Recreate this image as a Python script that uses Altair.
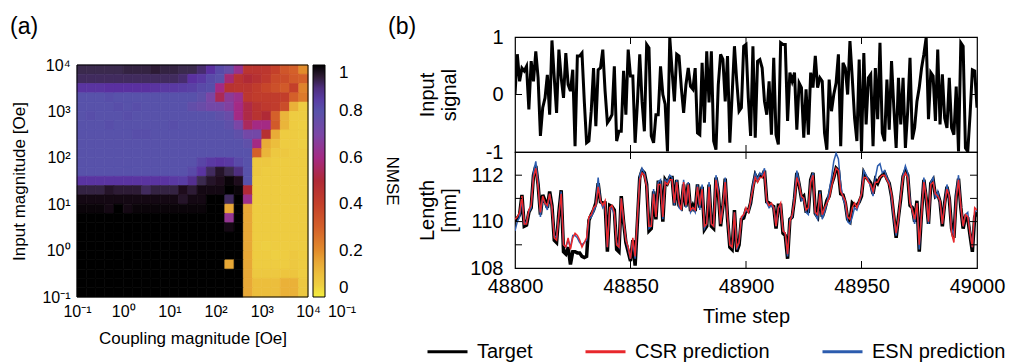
import altair as alt
import pandas as pd

FONT = "Liberation Sans"

# ---------------- panel (a) data ----------------
EXPONENT_RANGE = [-1, 4]
TICK_EXPONENTS = [-1, 0, 1, 2, 3, 4]
TICK_LABELS = ["10⁻¹", "10⁰", "10¹", "10²", "10³", "10⁴"]
# NMSE grid, top row (input 10^3.8..10^4) first, columns coupling 10^-1 .. 10^4
NMSE_ROWS = [
    [0.93,0.93,0.93,0.93,0.93,0.94,0.94,0.94,0.95,0.94,0.94,0.93,0.93,0.91,0.88,0.82,0.76,0.63,0.45,0.45,0.44,0.40,0.33,0.30,0.20],
    [0.92,0.92,0.92,0.92,0.92,0.92,0.92,0.92,0.92,0.92,0.92,0.91,0.88,0.86,0.82,0.79,0.58,0.46,0.50,0.47,0.43,0.37,0.36,0.32,0.30],
    [0.87,0.87,0.87,0.88,0.88,0.88,0.88,0.88,0.87,0.86,0.86,0.85,0.84,0.82,0.81,0.60,0.46,0.45,0.45,0.42,0.38,0.35,0.32,0.40,0.22],
    [0.80,0.80,0.80,0.81,0.80,0.80,0.80,0.80,0.80,0.80,0.80,0.80,0.80,0.78,0.70,0.54,0.66,0.62,0.44,0.42,0.42,0.42,0.41,0.30,0.24],
    [0.80,0.80,0.80,0.80,0.81,0.80,0.81,0.80,0.80,0.80,0.80,0.80,0.77,0.75,0.72,0.72,0.68,0.60,0.52,0.46,0.43,0.42,0.36,0.13,0.06],
    [0.80,0.81,0.80,0.80,0.80,0.81,0.80,0.80,0.80,0.80,0.80,0.80,0.80,0.80,0.80,0.78,0.75,0.60,0.52,0.46,0.50,0.30,0.12,0.06,0.06],
    [0.80,0.80,0.80,0.81,0.80,0.80,0.80,0.80,0.80,0.80,0.81,0.80,0.80,0.80,0.80,0.80,0.78,0.70,0.55,0.60,0.60,0.32,0.12,0.06,0.05],
    [0.80,0.80,0.80,0.80,0.80,0.80,0.81,0.81,0.80,0.80,0.80,0.80,0.80,0.80,0.80,0.80,0.80,0.78,0.72,0.72,0.47,0.14,0.06,0.06,0.05],
    [0.80,0.80,0.80,0.80,0.80,0.80,0.80,0.80,0.80,0.80,0.80,0.80,0.80,0.80,0.80,0.80,0.80,0.80,0.78,0.60,0.14,0.10,0.06,0.06,0.05],
    [0.80,0.80,0.80,0.80,0.80,0.80,0.80,0.80,0.80,0.80,0.80,0.80,0.80,0.80,0.80,0.80,0.80,0.80,0.80,0.30,0.12,0.07,0.07,0.06,0.06],
    [0.80,0.80,0.80,0.80,0.80,0.80,0.80,0.80,0.80,0.80,0.80,0.80,0.80,0.83,0.86,0.87,0.86,0.82,0.80,0.07,0.07,0.06,0.06,0.06,0.06],
    [0.80,0.80,0.80,0.80,0.80,0.80,0.80,0.80,0.80,0.80,0.80,0.80,0.82,0.87,0.92,0.96,0.93,0.90,0.80,0.07,0.06,0.06,0.06,0.06,0.06],
    [0.87,0.87,0.87,0.87,0.87,0.87,0.87,0.87,0.87,0.87,0.86,0.85,0.89,0.93,0.96,0.97,0.99,0.97,0.80,0.06,0.06,0.06,0.06,0.06,0.06],
    [0.94,0.94,0.94,0.96,0.95,0.95,0.95,0.92,0.94,0.94,0.94,0.97,0.95,0.98,0.98,0.98,1.00,0.99,0.50,0.06,0.06,0.06,0.06,0.06,0.06],
    [0.98,0.98,0.98,0.98,0.98,0.98,0.98,0.98,0.98,0.98,0.98,0.96,0.98,0.98,1.00,1.00,0.92,1.00,0.62,0.06,0.06,0.06,0.06,0.06,0.06],
    [0.99,0.99,0.99,0.98,1.00,0.98,0.99,0.99,0.99,0.99,0.99,0.99,0.99,0.99,1.00,1.00,0.15,1.00,0.15,0.06,0.06,0.06,0.06,0.06,0.06],
    [1.00,1.00,1.00,1.00,1.00,1.00,1.00,1.00,1.00,1.00,1.00,1.00,1.00,1.00,1.00,1.00,0.64,1.00,0.15,0.06,0.06,0.06,0.06,0.06,0.06],
    [1.00,1.00,1.00,1.00,1.00,1.00,1.00,1.00,1.00,1.00,1.00,1.00,1.00,1.00,1.00,1.00,0.98,1.00,0.15,0.06,0.06,0.06,0.06,0.06,0.06],
    [1.00,1.00,1.00,1.00,1.00,1.00,1.00,1.00,1.00,1.00,1.00,1.00,1.00,1.00,1.00,1.00,1.00,1.00,0.15,0.06,0.06,0.06,0.06,0.06,0.06],
    [1.00,1.00,1.00,1.00,1.00,1.00,1.00,1.00,1.00,1.00,1.00,1.00,1.00,1.00,1.00,1.00,1.00,1.00,0.15,0.06,0.05,0.06,0.06,0.06,0.06],
    [1.00,1.00,1.00,1.00,1.00,1.00,1.00,1.00,1.00,1.00,1.00,1.00,1.00,1.00,1.00,1.00,1.00,1.00,0.15,0.06,0.06,0.05,0.06,0.07,0.06],
    [1.00,1.00,1.00,1.00,1.00,1.00,1.00,1.00,1.00,1.00,1.00,1.00,1.00,1.00,1.00,1.00,0.15,1.00,0.15,0.06,0.06,0.06,0.06,0.07,0.06],
    [1.00,1.00,1.00,1.00,1.00,1.00,1.00,1.00,1.00,1.00,1.00,1.00,1.00,1.00,1.00,1.00,1.00,1.00,0.15,0.07,0.07,0.07,0.08,0.08,0.06],
    [1.00,1.00,1.00,1.00,1.00,1.00,1.00,1.00,1.00,1.00,1.00,1.00,1.00,1.00,1.00,1.00,1.00,1.00,0.15,0.10,0.10,0.10,0.13,0.13,0.07],
    [1.00,1.00,1.00,1.00,1.00,1.00,1.00,1.00,1.00,1.00,1.00,1.00,1.00,1.00,1.00,1.00,1.00,1.00,0.15,0.10,0.10,0.10,0.13,0.13,0.07],
]
NMSE_TICKS = [0, 0.2, 0.4, 0.6, 0.8, 1]
PALETTE_STOPS = [0, 0.05, 0.1, 0.15, 0.2, 0.3, 0.4, 0.5, 0.6, 0.7, 0.8, 0.88, 0.93, 0.97, 1.0]
PALETTE_COLORS = ["#f4ee3e", "#eecf42", "#ecbe3c", "#e8a836", "#e28c2c", "#d4602a",
                  "#c4402a", "#b02a36", "#a42a84", "#7a46a6", "#5852aa", "#5a30a0",
                  "#3b2a4e", "#1e0c1c", "#000000"]

# ---------------- panel (b) data ----------------
TIME_TICKS = [48800, 48850, 48900, 48950, 49000]
INPUT_TICKS = [-1, 0, 1]
LENGTH_TICKS = [108, 110, 112]
LENGTH_RANGE = [108, 113]
LENGTH_MARKS = [109, 110, 111, 112]
SERIES = ["Target", "CSR prediction", "ESN prediction"]
SERIES_COLORS = ["#000000", "#e8282c", "#2c5cae"]
SERIES_WIDTHS = [3.5, 1.5, 1.5]

INPUT_SIGNAL = [
    0.0, 0.70, 0.23, 0.46, 0.41, 0.49, -0.26, 0.58, 0.23, 0.75,
    0.29, -0.72, -0.23, -0.06, 0.34, -0.35, 0.94, 0.29, -0.32, 0.78,
    0.29, -0.06, 0.72, 0.17, 0.06, 0.43, -0.90, 0.67, 0.67, 0.72,
    -0.12, -0.84, -0.81, -0.29, 0.46, -0.55, 0.43, 0.46, 0.78, 0.06,
    -0.49, -0.43, -0.35, 0.49, -0.81, -0.64, -0.64, 0.41, -0.35, 0.78,
    0.32, 0.32, -0.84, -0.14, 0.70, -0.12, -0.64, 0.87, 0.81, -0.72,
    -0.84, -0.35, -0.35, 0.49, 0.0, -0.17, -0.99, 0.99, 0.41, -0.12,
    0.70, 0.67, 0.12, -0.32, 0.17, 0.46, 0.14, 0.09, 0.46, -0.67,
    -0.70, 0.55, -0.49, 0.75, -0.14, 0.75, -0.81, -0.96, 0.17, 0.70,
    0.61, -0.12, 0.67, -0.84, 0.0, 0.84, 0.23, -0.29, -0.23,
    0.84, 0.87, -0.06, -0.72, 0.84, -0.75, 0.58, 0.61, 0.46, -0.12,
    -0.35, 0.23, -0.70, 0.64, -0.70, -0.87, 0.90, 0.87, 0.87, -0.46,
    0.38, 0.23, 0.38, -0.61, 0.20, 0.12, -0.75, 0.09, -0.70, 0.38,
    0.12, 0.67, 0.12, 0.29, 0.23, -0.67, -0.96, 0.26, -0.29, 0.0,
    0.2, 0.70, -0.90, 0.55, 0.46, 0.0, 0.93, 0.29, -0.41, -0.81,
    0.61, -0.99, 0.72, -0.52, 0.29, 0.35, -0.90, 0.46, -0.43, 0.90,
    -0.67, -0.81, 0.26, -0.61, 0.58, -0.23, -0.93, 0.29, -0.52, 0.29,
    -0.93, -0.29, 0.64, -0.78, -0.58, -0.12, 0.12, 0.46, 0.70, 0.99,
    -0.43, 0.38, 0.32, -0.46, 0.78, -0.52, 0.35, -0.41, -0.58, 0.29,
    -0.58, -0.70, 0.14, -0.99, 0.90, 0.84, -0.93, -0.99, -0.35, 0.43,
    0.41, -0.23,
]

TARGET = [
    110.0, 110.15, 110.3, 111.15, 109.8, 109.85, 110.4, 110.6, 112.0, 112.4,
    111.6, 110.3, 111.15, 110.9, 110.6, 111.3, 110.7, 109.2, 109.1, 110.4,
    111.35, 108.7, 108.6, 108.9, 108.15, 108.7, 108.7, 108.65, 108.65, 108.5,
    108.45, 108.5, 110.05, 110.3, 110.5, 110.8, 111.65, 110.85, 110.8, 110.8,
    108.7, 110.7, 110.65, 110.5, 108.8, 108.7, 111.1, 110.0, 109.1, 108.7,
    108.3, 109.2, 108.1, 110.0, 111.9, 112.2, 112.1, 111.6, 109.6, 109.7,
    111.3, 110.1, 111.7, 111.7, 110.0, 111.8, 111.65, 111.9, 111.9, 110.7,
    111.8, 110.7, 110.6, 111.6, 110.65, 111.65, 110.45, 110.7, 110.45, 111.6,
    110.6, 111.5, 109.65, 109.8, 111.6, 109.8, 109.7, 111.9, 111.3, 109.8,
    110.65, 111.85, 110.15, 108.9, 108.8, 110.5, 108.7, 109.0, 110.1, 110.15,
    110.5, 110.45, 110.8, 111.5, 112.0, 111.8, 112.0, 111.95, 112.2, 110.85,
    110.8, 110.7, 110.65, 109.7, 110.7, 110.7, 109.5, 109.4, 108.4, 110.1,
    110.2, 111.0, 112.1, 111.6, 111.0, 111.1, 110.45, 110.45, 111.8, 112.1,
    110.35, 110.2, 111.35, 110.2, 110.5, 110.9, 111.1, 111.6, 111.9, 112.3,
    112.2, 111.2, 111.15, 110.8, 110.1, 110.0, 110.8, 110.7, 110.7, 110.85,
    111.1, 112.1, 111.9, 111.8, 111.65, 111.2, 111.8, 111.65, 111.9, 112.0,
    112.1, 111.85, 111.65, 111.1, 110.2, 109.3, 110.2, 111.0, 111.95, 112.2,
    112.0, 110.7, 110.6, 110.0, 110.9, 108.7, 110.4, 111.8, 111.0, 109.9,
    111.65, 111.8, 111.1, 111.2, 110.85, 109.8, 110.8, 111.5, 111.0, 109.7,
    109.3, 111.1, 111.85, 110.6, 109.7, 110.2, 110.15, 109.4, 108.7, 110.2,
    110.4,
]

CSR_PREDICTION = [
    110.1, 110.2, 110.4, 111.1, 109.9, 109.9, 110.5, 110.7, 111.9, 112.3,
    111.5, 110.4, 111.1, 110.8, 110.7, 111.2, 110.6, 109.3, 109.2, 110.3,
    111.2, 109.0, 108.9, 109.3, 108.8, 109.3, 109.5, 109.4, 109.2, 108.9,
    109.1, 109.3, 110.2, 110.3, 110.6, 110.7, 111.5, 110.9, 110.7, 110.9,
    108.9, 110.6, 110.7, 110.4, 109.0, 108.9, 111.0, 110.1, 109.2, 108.9,
    108.4, 109.3, 108.5, 110.2, 111.8, 112.1, 112.0, 111.5, 109.8, 109.8,
    111.2, 110.2, 111.6, 111.6, 110.2, 111.7, 111.6, 111.8, 111.8, 110.8,
    111.7, 110.8, 110.5, 111.7, 110.7, 111.6, 110.5, 110.6, 110.5, 111.5,
    110.7, 111.4, 109.8, 109.9, 111.5, 109.9, 109.8, 111.8, 111.2, 109.9,
    110.7, 111.7, 110.2, 109.0, 108.9, 110.4, 108.9, 109.1, 110.2, 110.3,
    110.6, 110.4, 110.9, 111.4, 111.9, 111.7, 111.9, 111.9, 112.1, 110.9,
    110.7, 110.8, 110.6, 109.8, 110.6, 110.8, 109.6, 109.5, 108.6, 110.0,
    110.3, 110.9, 111.9, 111.6, 111.1, 111.0, 110.5, 110.6, 111.7, 112.0,
    110.4, 110.3, 111.2, 110.3, 110.6, 110.8, 111.0, 111.5, 111.9, 112.3,
    112.2, 111.3, 111.1, 110.9, 110.2, 110.1, 110.6, 110.8, 110.6, 110.9,
    111.2, 111.9, 111.9, 111.7, 111.6, 111.3, 111.7, 111.7, 111.9, 112.0,
    112.0, 111.8, 111.6, 111.2, 110.3, 109.5, 110.1, 111.1, 111.9, 112.1,
    111.9, 110.8, 110.5, 110.1, 110.8, 109.0, 110.3, 111.7, 111.1, 110.0,
    111.6, 111.7, 111.2, 111.1, 110.9, 109.9, 110.7, 111.4, 111.1, 109.5,
    109.1, 111.0, 111.8, 110.7, 109.8, 110.3, 110.2, 109.5, 108.9, 110.6,
    110.5,
]

ESN_PREDICTION = [
    109.6, 110.0, 110.2, 111.0, 109.9, 110.0, 110.4, 110.6, 112.1, 112.6,
    111.7, 110.2, 111.0, 110.8, 110.5, 111.2, 110.6, 109.4, 109.3, 110.3,
    111.3, 109.0, 108.9, 109.2, 108.9, 109.4, 109.4, 109.3, 109.1, 109.0,
    109.1, 109.2, 110.1, 110.2, 110.4, 110.7, 111.9, 110.9, 110.6, 110.8,
    108.9, 110.5, 110.6, 110.3, 109.1, 108.9, 111.0, 110.0, 109.2, 108.8,
    108.4, 109.2, 108.4, 110.1, 112.0, 112.3, 112.1, 111.6, 109.7, 109.8,
    111.4, 110.2, 111.7, 111.8, 110.1, 111.8, 111.7, 112.0, 111.9, 110.7,
    111.8, 110.6, 110.5, 111.8, 110.6, 111.7, 110.4, 110.6, 110.4, 111.6,
    110.5, 111.6, 109.7, 109.9, 111.7, 109.9, 109.8, 112.0, 111.4, 109.9,
    110.6, 111.9, 110.2, 109.0, 108.9, 110.4, 108.8, 109.1, 110.1, 110.3,
    110.5, 110.4, 110.8, 111.6, 112.1, 111.8, 112.1, 112.0, 112.3, 110.8,
    110.6, 110.7, 110.6, 109.8, 110.6, 110.7, 109.6, 109.5, 108.5, 110.1,
    110.2, 111.1, 112.2, 111.7, 110.9, 111.0, 110.4, 110.3, 111.8, 112.1,
    110.3, 110.1, 111.3, 110.1, 110.4, 110.8, 111.3, 111.9, 112.6, 112.95,
    112.7, 111.6, 111.0, 110.7, 110.0, 109.9, 110.2, 110.6, 110.5, 110.8,
    111.2, 112.2, 112.0, 111.8, 111.5, 111.1, 111.9, 112.4, 112.5, 112.1,
    112.2, 111.9, 111.7, 111.0, 110.1, 109.4, 110.1, 111.1, 112.0, 112.4,
    112.1, 110.9, 110.5, 109.9, 110.8, 108.8, 110.4, 111.9, 111.0, 109.9,
    111.7, 111.9, 111.0, 111.3, 110.8, 109.9, 110.8, 111.6, 111.0, 109.7,
    109.4, 111.2, 112.0, 110.6, 109.8, 110.3, 110.4, 109.5, 108.9, 110.4,
    110.5,
]

# ---------------- layout constants ----------------
A_W, A_H, A_MAP = 231, 260, 232
B_W, B_TOP_H, B_BOT_H = 462, 115, 116
TICK_LEN = 7

# ---------------- panel (a) ----------------
n_cols = len(NMSE_ROWS[0])
n_rows = len(NMSE_ROWS)
dx = (EXPONENT_RANGE[1] - EXPONENT_RANGE[0]) / n_cols
dy = (EXPONENT_RANGE[1] - EXPONENT_RANGE[0]) / n_rows
cells = []
for r, row in enumerate(NMSE_ROWS):
    y_hi = EXPONENT_RANGE[1] - r * dy
    for c, v in enumerate(row):
        x_lo = EXPONENT_RANGE[0] + c * dx
        cells.append({"x0": x_lo, "x1": x_lo + dx, "y0": y_hi - dy, "y1": y_hi, "nmse": v})
heat_df = pd.DataFrame(cells)

sup_expr = "'" + TICK_LABELS[-1] + "'"
for e, lab in reversed(list(zip(TICK_EXPONENTS[:-1], TICK_LABELS[:-1]))):
    sup_expr = f"datum.value == {e} ? '{lab}' : " + sup_expr

xs_a = alt.Scale(domain=EXPONENT_RANGE, nice=False, zero=False)
ys_a = alt.Scale(domain=EXPONENT_RANGE, nice=False, zero=False, range=[A_H, A_H - A_MAP])
cscale = alt.Scale(domain=PALETTE_STOPS, range=PALETTE_COLORS, interpolate="rgb")

heat = alt.Chart(heat_df).mark_rect(strokeWidth=0.7).encode(
    x=alt.X("x0:Q", scale=xs_a, axis=alt.Axis(
        values=TICK_EXPONENTS, labelExpr=sup_expr, title="Coupling magnitude [Oe]",
        labelFlush=False, labelOverlap=False, labelPadding=6, titlePadding=11,
        labelFontSize=16, titleFontSize=17, tickSize=0, domain=False)),
    x2="x1:Q",
    y=alt.Y("y0:Q", scale=ys_a, axis=alt.Axis(
        values=TICK_EXPONENTS, labelExpr=sup_expr, title="Input magnitude [Oe]",
        labelFlush=False, labelOverlap=False, labelPadding=7, titlePadding=13,
        labelFontSize=16, titleFontSize=17, tickSize=0, domain=False)),
    y2="y1:Q",
    color=alt.Color("nmse:Q", scale=cscale, title="NMSE", legend=alt.Legend(
        type="gradient",
        orient="none", legendX=A_W + 5, legendY=A_H - A_MAP, direction="vertical",
        gradientLength=A_MAP, gradientThickness=12, values=NMSE_TICKS, format="~g",
        labelFontSize=17, labelOffset=14, labelOverlap=False,
        titleOrient="right", titleAnchor="middle", titleFontSize=17,
        titleFontWeight="normal", titlePadding=20,
        gradientStrokeColor="black", gradientStrokeWidth=1, padding=0)),
    stroke=alt.Stroke("nmse:Q", scale=cscale, legend=None),
)

frame_df = pd.DataFrame({"x0": [EXPONENT_RANGE[0]], "x1": [EXPONENT_RANGE[1]],
                         "y0": [EXPONENT_RANGE[0]], "y1": [EXPONENT_RANGE[1]]})
frame = alt.Chart(frame_df).mark_rect(filled=False, stroke="black", strokeWidth=1).encode(
    x=alt.X("x0:Q", scale=xs_a), x2="x1:Q", y=alt.Y("y0:Q", scale=ys_a), y2="y1:Q")

label_a = alt.Chart(pd.DataFrame({"t": ["(a)"]})).mark_text(
    fontSize=23, align="left", baseline="middle").encode(
    x=alt.value(-67), y=alt.value(-10), text="t:N")
extra_lab = alt.Chart(pd.DataFrame({"t": [TICK_LABELS[0]]})).mark_text(
    fontSize=16, align="center", baseline="top").encode(
    x=alt.value(A_W + 34), y=alt.value(A_H + 7), text="t:N")

panel_a = alt.layer(heat, frame, label_a, extra_lab).properties(
    width=A_W, height=A_H, view=alt.ViewBackground(strokeOpacity=0))

# ---------------- panel (b) ----------------
steps = [TIME_TICKS[0] + i for i in range(len(INPUT_SIGNAL))]
in_df = pd.DataFrame({"step": steps, "value": INPUT_SIGNAL})
xs_b = alt.Scale(domain=[TIME_TICKS[0], TIME_TICKS[-1]], nice=False, zero=False)
ys_top = alt.Scale(domain=[INPUT_TICKS[0], INPUT_TICKS[-1]], nice=False, zero=False)
ys_bot = alt.Scale(domain=LENGTH_RANGE, nice=False, zero=False)

in_line = alt.Chart(in_df).mark_line(color="black", strokeWidth=3, clip=True).encode(
    x=alt.X("step:Q", scale=xs_b, axis=None),
    y=alt.Y("value:Q", scale=ys_top, axis=alt.Axis(
        values=INPUT_TICKS, labelExpr="toString(datum.value)", title=["Input", "signal"],
        titleX=-78, titleY=B_TOP_H / 2, labelPadding=12, labelFontSize=20,
        titleFontSize=20, titleLineHeight=22, tickSize=0, domain=False,
        labelFlush=False)))

xt_df = pd.DataFrame({"t": TIME_TICKS[1:-1]})


def x_ticks(h):
    top = alt.Chart(xt_df).mark_rule(color="black", strokeWidth=1).encode(
        x=alt.X("t:Q", scale=xs_b, axis=None), y=alt.value(0), y2=alt.value(TICK_LEN))
    bot = alt.Chart(xt_df).mark_rule(color="black", strokeWidth=1).encode(
        x=alt.X("t:Q", scale=xs_b, axis=None), y=alt.value(h - TICK_LEN), y2=alt.value(h))
    return [top, bot]


def y_ticks(vals, scale):
    d = pd.DataFrame({"t": vals})
    left = alt.Chart(d).mark_rule(color="black", strokeWidth=1).encode(
        y=alt.Y("t:Q", scale=scale, axis=None), x=alt.value(0), x2=alt.value(TICK_LEN))
    right = alt.Chart(d).mark_rule(color="black", strokeWidth=1).encode(
        y=alt.Y("t:Q", scale=scale, axis=None), x=alt.value(B_W - TICK_LEN), x2=alt.value(B_W))
    return [left, right]


label_b = alt.Chart(pd.DataFrame({"t": ["(b)"]})).mark_text(
    fontSize=23, align="left", baseline="middle").encode(
    x=alt.value(-127), y=alt.value(-10), text="t:N")

top_chart = alt.layer(in_line, *x_ticks(B_TOP_H), *y_ticks([0], ys_top), label_b).resolve_axis(
    x="independent", y="independent").properties(width=B_W, height=B_TOP_H)

rows = []
for name, vals in [("Target", TARGET), ("CSR prediction", CSR_PREDICTION), ("ESN prediction", ESN_PREDICTION)]:
    for i, v in enumerate(vals):
        rows.append({"step": TIME_TICKS[0] + i, "value": v, "series": name})
len_df = pd.DataFrame(rows)

color_enc = alt.Color("series:N", scale=alt.Scale(domain=SERIES, range=SERIES_COLORS),
                      title=None, legend=alt.Legend(
                          orient="none", legendX=-89, legendY=293, direction="horizontal",
                          symbolType="stroke", symbolSize=1600, symbolStrokeWidth=3,
                          labelFontSize=20, labelOffset=8, columnPadding=46,
                          labelLimit=400, padding=0))
x_axis_enc = alt.X("step:Q", scale=xs_b, axis=alt.Axis(
    values=TIME_TICKS, format="d", title="Time step", labelFlush=False,
    labelPadding=8, titlePadding=10, labelFontSize=20, titleFontSize=20,
    tickSize=0, domain=False))
y_axis_enc = alt.Y("value:Q", scale=ys_bot, axis=alt.Axis(
    values=LENGTH_TICKS, title=["Length", "[mm]"], titleX=-78, titleY=B_BOT_H / 2,
    labelPadding=12, labelFontSize=20, titleFontSize=20, titleLineHeight=22,
    tickSize=0, domain=False, labelFlush=False))
x_plain = alt.X("step:Q", scale=xs_b, axis=None)
y_plain = alt.Y("value:Q", scale=ys_bot, axis=None)

draw_order = [0, 2, 1]  # Target below, ESN, CSR on top
len_layers = []
for k, idx in enumerate(draw_order):
    name = SERIES[idx]
    len_layers.append(
        alt.Chart(len_df).transform_filter(alt.datum.series == name).mark_line(
            clip=True, strokeWidth=SERIES_WIDTHS[idx]).encode(
            x=x_axis_enc if k == 0 else x_plain,
            y=y_axis_enc if k == 0 else y_plain,
            color=color_enc))

bot_chart = alt.layer(*len_layers, *x_ticks(B_BOT_H), *y_ticks(LENGTH_MARKS, ys_bot)).resolve_axis(
    x="independent", y="independent").properties(width=B_W, height=B_BOT_H)

panel_b = alt.vconcat(top_chart, bot_chart, spacing=0, bounds="flush")

chart = alt.hconcat(panel_a, panel_b, spacing=207, bounds="flush").resolve_scale(
    color="independent"
).properties(
    padding={"left": 2, "top": 7, "right": 0, "bottom": 0}
).configure_view(
    stroke="black", strokeWidth=1.2
).configure_axis(
    labelFont=FONT, titleFont=FONT, titleFontWeight="normal",
    labelColor="black", titleColor="black", grid=False
).configure_legend(
    labelFont=FONT, titleFont=FONT, labelColor="black", titleColor="black"
).configure_text(font=FONT, color="black")

chart.save("out.html", embed_options={"renderer": "svg", "actions": False})
